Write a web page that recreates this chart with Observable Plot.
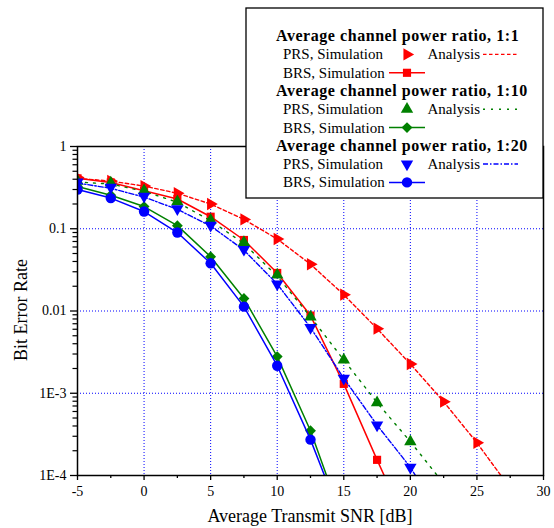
<!DOCTYPE html>
<html>
<head>
<meta charset="utf-8">
<script src="https://cdn.jsdelivr.net/npm/d3@7"></script>
<script src="https://cdn.jsdelivr.net/npm/@observablehq/plot@0.6"></script>
<style>
  body { margin: 0; background: white; }
  #chart { width: 554px; height: 528px; }
  #chart svg text { font-family: 'Liberation Serif', 'Times New Roman', serif; }
</style>
</head>
<body>
<div id="chart"></div>
<script>
// ---- data ----
const snr = [-5, -2.5, 0, 2.5, 5, 7.5, 10, 12.5, 15, 17.5, 20, 22.5, 25];

// Average channel power ratio 1:1
const prs1Sim = [0.42, 0.38, 0.33, 0.27, 0.20, 0.13, 0.075, 0.037, 0.0158, 0.0061, 0.00227, 0.00079, 0.00025];
const prs1AnaX = [-5, -2.5, 0, 2.5, 5, 7.5, 10, 12.5, 15, 17.5, 20, 22.5, 25, 27.5];
const prs1Ana = [0.41, 0.38, 0.33, 0.27, 0.20, 0.13, 0.075, 0.037, 0.0158, 0.0061, 0.00227, 0.00079, 0.00025, 0.00007];
const brs1X = [-5, -2.5, 0, 2.5, 5, 7.5, 10, 12.5, 15, 17.5, 20];
const brs1 = [0.41, 0.365, 0.29, 0.23, 0.14, 0.073, 0.029, 0.0088, 0.0013, 0.000155, 0.00002];

// Average channel power ratio 1:10
const prs10Sim = [0.38, 0.36, 0.29, 0.214, 0.127, 0.068, 0.0274, 0.0085, 0.00254, 0.00077, 0.000258];
const prs10AnaX = [-5, -2.5, 0, 2.5, 5, 7.5, 10, 12.5, 15, 17.5, 20, 22.5];
const prs10Ana = [0.37, 0.35, 0.285, 0.21, 0.125, 0.066, 0.0265, 0.0085, 0.00254, 0.00077, 0.000258, 0.00008];
const brs10X = [-5, -2.5, 0, 2.5, 5, 7.5, 10, 12.5, 15];
const brs10 = [0.327, 0.256, 0.186, 0.109, 0.0457, 0.0142, 0.00279, 0.00035, 0.000026];

// Average channel power ratio 1:20
const prs20Sim = [0.37, 0.318, 0.247, 0.175, 0.11, 0.056, 0.0213, 0.0063, 0.00152, 0.00041, 0.000126];
const prs20AnaX = [-5, -2.5, 0, 2.5, 5, 7.5, 10, 12.5, 15, 17.5, 20, 22.5];
const prs20Ana = [0.36, 0.31, 0.243, 0.172, 0.108, 0.055, 0.0213, 0.0063, 0.00152, 0.00041, 0.000126, 0.000028];
const brs20X = [-5, -2.5, 0, 2.5, 5, 7.5, 10, 12.5, 15];
const brs20 = [0.30, 0.236, 0.162, 0.09, 0.038, 0.0113, 0.00216, 0.000273, 0.000025];

// ticks
const xMajor = [-5, 0, 5, 10, 15, 20, 25, 30];
const xMinor = [-2.5, 2.5, 7.5, 12.5, 17.5, 22.5, 27.5];
const xGrid = [0, 5, 10, 15, 20, 25];
const yMajor = [1, 0.1, 0.01, 0.001, 0.0001];
const yLabels = ["1", "0.1", "0.01", "1E-3", "1E-4"];
const yGrid = [0.1, 0.01, 0.001];
const yMinor = [];
for (const d of [0.0001, 0.001, 0.01, 0.1]) for (let k = 2; k <= 9; k++) yMinor.push(+(d * k).toPrecision(3));

const RED = "#ff0000", GREEN = "#008000", BLUE = "#0000ff";
const FONT = "'Liberation Serif', 'Times New Roman', serif";

const rows = (xs, ys) => xs.map((x, i) => ({x, y: ys[i]}));

const series = [
  {color: RED, sim: rows(snr, prs1Sim), ana: rows(prs1AnaX, prs1Ana), brs: rows(brs1X, brs1),
   anaDash: "3.5,2.5", prsSym: "triangle", prsRot: 90, brsSym: "square", prsR: 4.6, brsR: 4.6},
  {color: GREEN, sim: rows(snr, prs10Sim), ana: rows(prs10AnaX, prs10Ana), brs: rows(brs10X, brs10),
   anaDash: "2,6", prsSym: "triangle", prsRot: 0, brsSym: "diamond2", prsR: 4.6, brsR: 4.9},
  {color: BLUE, sim: rows(snr, prs20Sim), ana: rows(prs20AnaX, prs20Ana), brs: rows(brs20X, brs20),
   anaDash: "5,2,1.5,2", prsSym: "triangle", prsRot: 180, brsSym: "circle", prsR: 4.6, brsR: 5.2}
];

const marks = [
  Plot.gridX(xGrid, {stroke: BLUE, strokeOpacity: 1, strokeWidth: 1, strokeDasharray: "1,2"}),
  Plot.gridY(yGrid, {stroke: BLUE, strokeOpacity: 1, strokeWidth: 1, strokeDasharray: "1,2"})
];
for (const s of series) {
  marks.push(Plot.line(s.ana, {x: "x", y: "y", stroke: s.color, strokeWidth: 1.4, strokeDasharray: s.anaDash, clip: true}));
  marks.push(Plot.line(s.brs, {x: "x", y: "y", stroke: s.color, strokeWidth: 1.5, clip: true}));
  marks.push(Plot.dot(s.sim, {x: "x", y: "y", symbol: s.prsSym, rotate: s.prsRot, r: s.prsR, fill: s.color, stroke: "none", clip: true}));
  marks.push(Plot.dot(s.brs, {x: "x", y: "y", symbol: s.brsSym, r: s.brsR, fill: s.color, stroke: "none", clip: true}));
}
marks.push(
  Plot.frame({stroke: "black", strokeWidth: 1.5}),
  Plot.axisX(xMajor, {tickSize: 5, tickPadding: 6, strokeWidth: 1.3, tickFormat: d => String(d), fontFamily: FONT, fontSize: 14, label: null}),
  Plot.axisX(xMinor, {tickSize: 3, strokeWidth: 1.3, tickFormat: () => "", label: null}),
  Plot.axisY(yMajor, {tickSize: 7, tickPadding: 4, strokeWidth: 1.3, tickFormat: d => yLabels[yMajor.indexOf(d)], fontFamily: FONT, fontSize: 14, label: null}),
  Plot.axisY(yMinor, {tickSize: 4.5, strokeWidth: 1.2, tickFormat: () => "", label: null})
);

const svg = Plot.plot({
  width: 554,
  height: 528,
  marginLeft: 77,
  marginRight: 11,
  marginTop: 146,
  marginBottom: 53,
  style: {fontFamily: FONT, fontSize: "14px", color: "black", background: "white"},
  x: {domain: [-5, 30], label: null},
  y: {type: "log", domain: [0.0001, 1], label: null},
  marks
});
document.getElementById("chart").appendChild(svg);

// ---- axis titles and legend ----
const root = d3.select(svg);
root.append("text")
  .attr("x", 310).attr("y", 522)
  .attr("text-anchor", "middle")
  .style("font-family", FONT).style("font-size", "18px").attr("fill", "black")
  .text("Average Transmit SNR [dB]");
root.append("text")
  .attr("transform", "translate(27,310) rotate(-90)")
  .attr("text-anchor", "middle")
  .style("font-family", FONT).style("font-size", "18px").attr("fill", "black")
  .text("Bit Error Rate");

const headers = ["Average channel power ratio, 1:1", "Average channel power ratio, 1:10", "Average channel power ratio, 1:20"];
const lg = root.append("g").attr("text-anchor", "start");
lg.append("rect").attr("x", 246).attr("y", 8).attr("width", 297).attr("height", 190)
  .attr("fill", "white").attr("stroke", "black").attr("stroke-width", 1.3);
const symMap = {triangle: d3.symbolTriangle, square: d3.symbolSquare, diamond2: d3.symbolDiamond2, circle: d3.symbolCircle};
series.forEach((s, i) => {
  const hy = 41 + i * 54.8;
  const py = hy + 18.4;
  const by = hy + 36.8;
  const txt = (x, y, t, bold) => lg.append("text").attr("x", x).attr("y", y)
    .attr("text-anchor", "start")
    .style("font-family", FONT).style("font-size", bold ? "16px" : "15px").style("font-weight", bold ? "bold" : "normal")
    .style("letter-spacing", bold ? "0.55px" : "0px")
    .attr("fill", "black").text(t);
  txt(276, hy, headers[i], true);
  txt(283, py, "PRS, Simulation", false);
  txt(427.5, py, "Analysis", false);
  txt(283, by, "BRS, Simulation", false);
  lg.append("path")
    .attr("d", d3.symbol(symMap[s.prsSym], Math.PI * s.prsR * s.prsR)())
    .attr("transform", `translate(407,${py - 5}) rotate(${s.prsRot})`)
    .attr("fill", s.color);
  lg.append("line").attr("x1", 483).attr("x2", 518).attr("y1", py - 5).attr("y2", py - 5)
    .attr("stroke", s.color).attr("stroke-width", 1.4).attr("stroke-dasharray", s.anaDash);
  lg.append("line").attr("x1", 389).attr("x2", 425).attr("y1", by - 5).attr("y2", by - 5)
    .attr("stroke", s.color).attr("stroke-width", 1.5);
  lg.append("path")
    .attr("d", d3.symbol(symMap[s.brsSym], Math.PI * s.brsR * s.brsR)())
    .attr("transform", `translate(407,${by - 5})`)
    .attr("fill", s.color);
});
</script>
</body>
</html>
